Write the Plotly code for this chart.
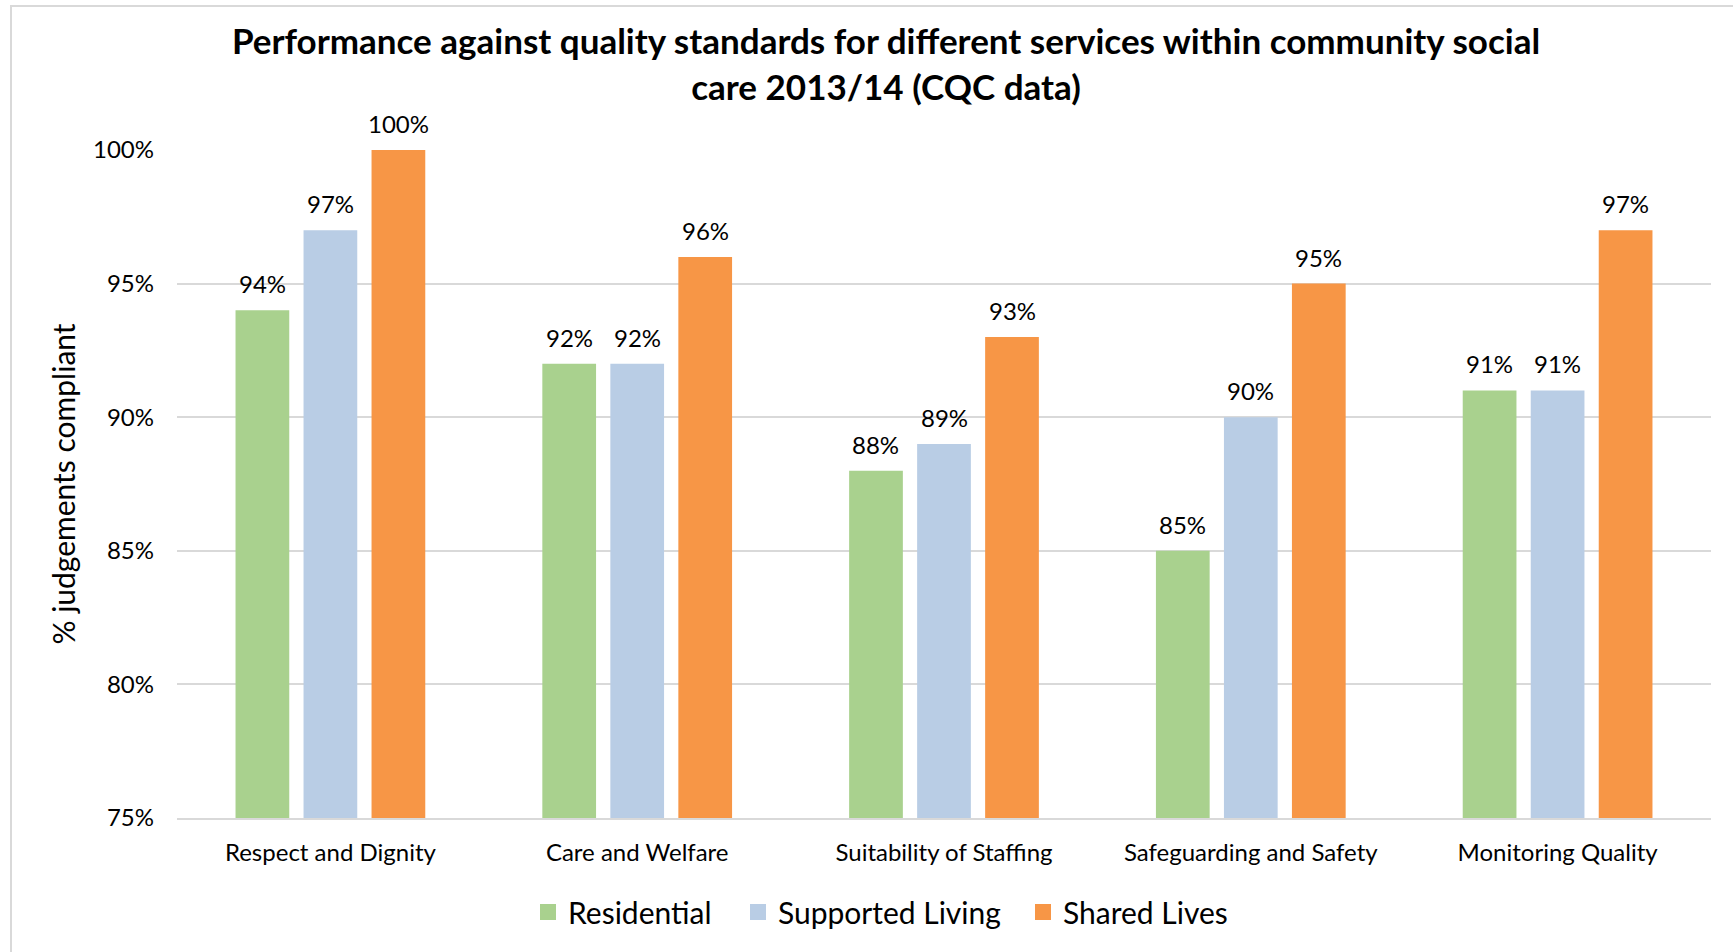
import plotly.graph_objects as go

categories = ["Respect and Dignity", "Care and Welfare", "Suitability of Staffing",
              "Safeguarding and Safety", "Monitoring Quality"]
series_names = ["Residential", "Supported Living", "Shared Lives"]
residential = [94, 92, 88, 85, 91]
supported_living = [97, 92, 89, 90, 91]
shared_lives = [100, 96, 93, 95, 97]
y_tick_vals = [75, 80, 85, 90, 95, 100]
y_tick_text = ["75%", "80%", "85%", "90%", "95%", "100%"]

title_text = ("Performance against quality standards for different services within community social"
              "<br>care 2013/14 (CQC data)")
y_title = "% judgements compliant"

colors = ["#a9d18e", "#b9cde5", "#f79646"]
series_values = [residential, supported_living, shared_lives]

W, H = 1733, 952
L, R, T, B = 177, 22, 150, 134
plot_w = W - L - R
plot_h = H - T - B
bargap = 0.335
bargroupgap = 0.21
FONT = "Lato"
legend_ids = ["legend", "legend2", "legend3"]
legend_left_px = [528, 738, 1023]

fig = go.Figure()
for name, vals, col in zip(series_names, series_values, colors):
    fig.add_trace(go.Bar(name=name, x=categories, y=vals, marker=dict(color=col, line=dict(width=0)),
                         legendgroup=name, showlegend=False, hoverinfo="x+y"))
# legend entries with larger square swatches
for name, col, lid in zip(series_names, colors, legend_ids):
    fig.add_trace(go.Scatter(name=name, x=[None], y=[None], mode="markers", legendgroup=name,
                             legend=lid,
                             marker=dict(symbol="square", size=16, color=col, line=dict(width=0)),
                             showlegend=True, hoverinfo="skip"))

# data labels above bars
cat_px = plot_w / len(categories)
slot_px = cat_px * (1 - bargap) / len(series_names)
annotations = []
for i, vals in enumerate(series_values):
    shift = (i - (len(series_names) - 1) / 2) * slot_px
    for c, v in zip(categories, vals):
        annotations.append(dict(x=c, y=v, xref="x", yref="y", text=f"{v}%", showarrow=False,
                                xshift=shift, yshift=10, yanchor="bottom", xanchor="center",
                                font=dict(family=FONT, size=24, color="#000000")))

def px_x(p):
    return (p - L) / plot_w

def px_y(p):
    return (H - B - p) / plot_h

legend_layout = {}
for lid, lx in zip(legend_ids, legend_left_px):
    legend_layout[lid] = dict(orientation="h", x=px_x(lx), xanchor="left", y=px_y(912),
                              yanchor="middle", font=dict(family=FONT, size=30, color="#000000"),
                              itemwidth=30, bgcolor="rgba(0,0,0,0)")

fig.update_layout(
    width=W, height=H,
    margin=dict(l=L, r=R, t=T, b=B, autoexpand=False),
    paper_bgcolor="white", plot_bgcolor="white",
    barmode="group", bargap=bargap, bargroupgap=bargroupgap,
    title=dict(text=title_text, x=px_x(886), xanchor="center", xref="paper",
               y=1 - 54 / H, yanchor="middle", yref="container",
               font=dict(family=FONT, size=35, color="#000000", weight="bold")),
    font=dict(family=FONT, color="#000000"),
    showlegend=True,
    annotations=annotations,
    shapes=[dict(type="rect", xref="paper", yref="paper",
                 x0=px_x(11), x1=px_x(1745), y0=px_y(965), y1=px_y(6),
                 line=dict(color="#d9d9d9", width=2), fillcolor="rgba(0,0,0,0)", layer="below")],
    **legend_layout,
)
fig.update_xaxes(showgrid=False, showline=True, linecolor="#d9d9d9", linewidth=2,
                 ticks="", ticklabelstandoff=12,
                 tickfont=dict(family=FONT, size=24, color="#000000"), zeroline=False)
fig.update_yaxes(range=[75, 100], tickvals=y_tick_vals, ticktext=y_tick_text,
                 showgrid=True, gridcolor="#d9d9d9", gridwidth=1.5, showline=False, zeroline=False,
                 ticks="", ticklabelstandoff=22,
                 tickfont=dict(family=FONT, size=24, color="#000000"),
                 title=dict(text=y_title, standoff=8, font=dict(family=FONT, size=30, color="#000000")))

fig.write_html("out.html", config={"displayModeBar": False},
               post_script="document.body.style.margin='0';document.body.style.overflow='hidden';")
